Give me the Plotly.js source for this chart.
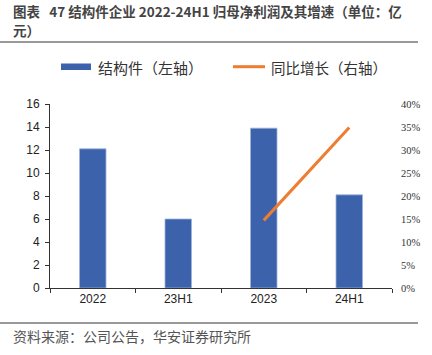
<!DOCTYPE html>
<html>
<head>
<meta charset="utf-8">
<script src="https://cdn.plot.ly/plotly-3.0.1.min.js"></script>
<style>
html,body{margin:0;padding:0;background:#fff;}
#chart{width:432px;height:355px;}
</style>
</head>
<body>
<div id="chart"></div>
<script>
// ---- data ----
const categories = ['2022', '23H1', '2023', '24H1'];
const profit = [12.1, 6.0, 13.9, 8.1];          // 结构件 归母净利润（亿元，左轴）
const growth = [null, null, 0.147, 0.349];       // 同比增长（右轴）
const leftTicks = [0, 2, 4, 6, 8, 10, 12, 14, 16];
const rightTicks = [0, 0.05, 0.10, 0.15, 0.20, 0.25, 0.30, 0.35, 0.40];

const titleLine1 = '图表&nbsp;&nbsp; 47 结构件企业 2022-24H1 归母净利润及其增速（单位：亿';
const titleLine2 = '元）';
const legendBar = '结构件（左轴）';
const legendLine = '同比增长（右轴）';
const sourceText = '资料来源：公司公告，华安证券研究所';

// ---- layout geometry ----
const W = 432, H = 355;
const M = {l: 50, r: 40, t: 104, b: 67};
const pw = W - M.l - M.r, ph = H - M.t - M.b;
const px = x => (x - M.l) / pw;
const py = y => (H - M.b - y) / ph;

const CJK = '"Noto Sans CJK SC", "Noto Sans", sans-serif';
const BLUE = '#3b62ab', ORANGE = '#ed7d31';

const traces = [
  {
    type: 'bar', x: categories, y: profit, name: legendBar,
    marker: {color: BLUE, line: {color: '#9fb3da', width: 0.8}},
    showlegend: false, hoverinfo: 'x+y'
  },
  {
    type: 'scatter', mode: 'lines', x: categories, y: growth, yaxis: 'y2',
    name: legendLine, line: {color: ORANGE, width: 3}, connectgaps: false,
    showlegend: false
  }
];

const layout = {
  width: W, height: H,
  margin: M,
  paper_bgcolor: '#fff', plot_bgcolor: '#fff',
  bargap: 0.69,
  font: {family: '"Liberation Sans", Arial, sans-serif', size: 12, color: '#222'},
  xaxis: {
    type: 'category', showline: true, linecolor: '#333', linewidth: 1,
    ticks: 'outside', tickson: 'boundaries', ticklen: 4, tickcolor: '#333',
    showgrid: false, zeroline: false,
    tickfont: {family: '"Liberation Sans", Arial, sans-serif', size: 12, color: '#222'}
  },
  yaxis: {
    range: [0, 16], tickvals: leftTicks, showline: true, linecolor: '#333', linewidth: 1,
    ticks: 'outside', ticklen: 4, tickcolor: '#333', showgrid: false, zeroline: false,
    ticklabelstandoff: 3,
    tickfont: {family: '"Liberation Sans", Arial, sans-serif', size: 12, color: '#222'}
  },
  yaxis2: {
    range: [0, 0.4], tickvals: rightTicks, tickformat: '.0%', overlaying: 'y', side: 'right',
    showline: false, ticks: '', showgrid: false, zeroline: false, ticklabelstandoff: 8,
    tickfont: {family: '"Liberation Serif", "Times New Roman", serif', size: 10.5, color: '#333'}
  },
  shapes: [
    {type: 'line', xref: 'paper', yref: 'paper', x0: px(0), x1: px(418), y0: py(42), y1: py(42),
     line: {color: '#777', width: 1.5}},
    {type: 'line', xref: 'paper', yref: 'paper', x0: px(0), x1: px(418), y0: py(323), y1: py(323),
     line: {color: '#777', width: 1.5}},
    {type: 'rect', xref: 'paper', yref: 'paper', x0: px(61), x1: px(91), y0: py(70), y1: py(63.5),
     fillcolor: BLUE, line: {width: 0}},
    {type: 'line', xref: 'paper', yref: 'paper', x0: px(233), x1: px(265), y0: py(66.7), y1: py(66.7),
     line: {color: ORANGE, width: 3}}
  ],
  annotations: [
    {xref: 'paper', yref: 'paper', x: px(11), y: py(11), xanchor: 'left', yanchor: 'middle',
     text: '<b>' + titleLine1 + '</b>', showarrow: false,
     font: {family: CJK, size: 13.5, color: '#444'}},
    {xref: 'paper', yref: 'paper', x: px(11), y: py(30), xanchor: 'left', yanchor: 'middle',
     text: '<b>' + titleLine2 + '</b>', showarrow: false,
     font: {family: CJK, size: 13.5, color: '#444'}},
    {xref: 'paper', yref: 'paper', x: px(96), y: py(67), xanchor: 'left', yanchor: 'middle',
     text: legendBar, showarrow: false, font: {family: CJK, size: 15, color: '#333'}},
    {xref: 'paper', yref: 'paper', x: px(269), y: py(67), xanchor: 'left', yanchor: 'middle',
     text: legendLine, showarrow: false, font: {family: CJK, size: 14.5, color: '#333'}},
    {xref: 'paper', yref: 'paper', x: px(11), y: py(336), xanchor: 'left', yanchor: 'middle',
     text: sourceText, showarrow: false, font: {family: CJK, size: 14, color: '#555'}}
  ]
};

Plotly.newPlot('chart', traces, layout, {displayModeBar: false, staticPlot: true});
</script>
</body>
</html>
